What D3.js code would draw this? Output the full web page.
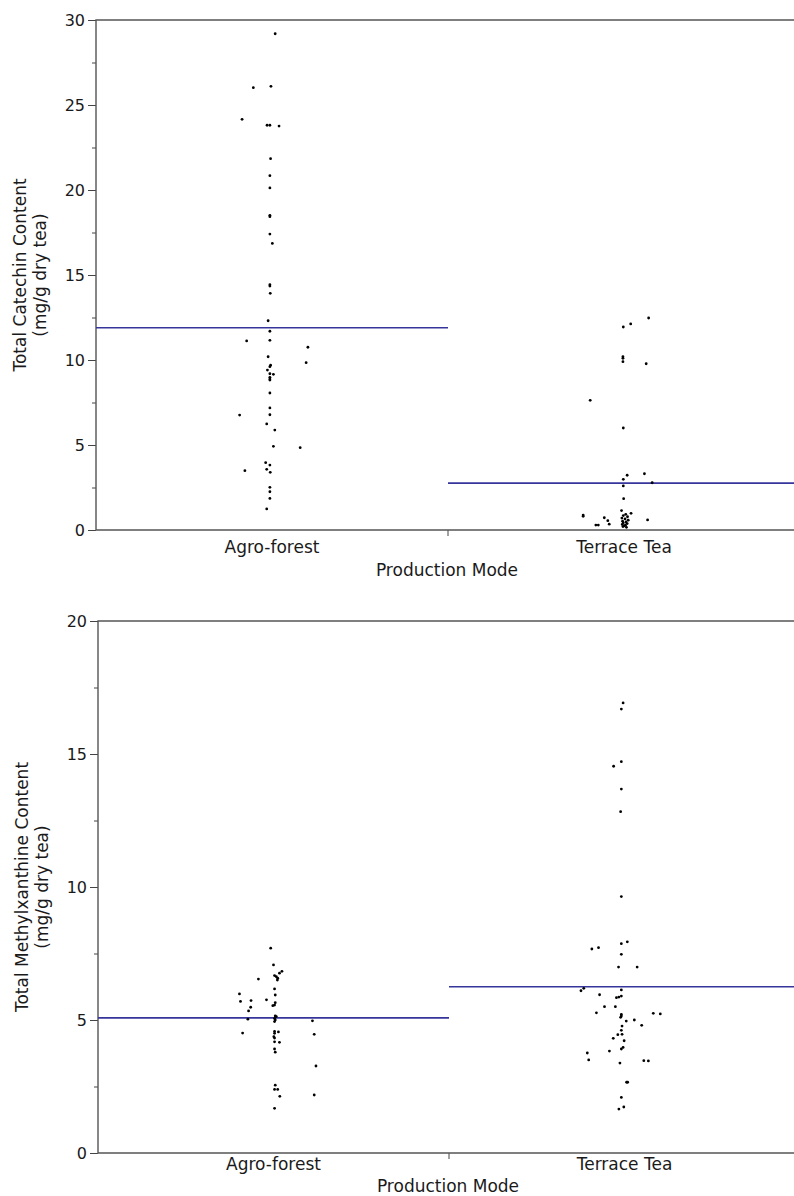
<!DOCTYPE html>
<html>
<head>
<meta charset="utf-8">
<script src="https://cdn.jsdelivr.net/npm/d3@7"></script>
<style>
  body { margin: 0; background: #fff; }
  text { font-family: "DejaVu Sans", "Noto Sans", sans-serif; fill: #1a1a1a; }
</style>
</head>
<body>
<svg id="chart" width="794" height="1196"></svg>
<script>
const categories = ["Agro-forest", "Terrace Tea"];

// Total catechin content (mg/g dry tea) per sample; jitter is a horizontal
// offset expressed as a fraction of the category width.
const catechinAgroforest = [29.19, 26.02, 26.10, 24.16, 23.81, 23.81, 23.76, 21.84, 20.84, 20.12,
  18.51, 18.43, 17.41, 16.86, 14.43, 14.35, 13.92, 12.31, 11.69, 11.12, 11.16, 10.75, 10.19, 9.84,
  9.69, 9.61, 9.41, 9.19, 9.16, 8.98, 8.88, 8.82, 8.06, 7.18, 6.76, 6.78, 6.24, 5.88, 4.92, 4.84,
  3.96, 3.82, 3.49, 3.57, 3.39, 2.51, 2.25, 1.86, 1.24];
const catechinAgroforestJitter = [0.009, -0.053, -0.003, -0.085, -0.014, -0.006, 0.020, -0.004, -0.006, -0.006,
  -0.006, -0.006, -0.006, 0.001, -0.006, -0.006, -0.005, -0.011, -0.006, -0.072, -0.006, 0.102, -0.011, 0.097,
  -0.004, -0.006, -0.013, -0.006, 0.004, -0.006, -0.006, -0.006, -0.006, -0.006, -0.092, -0.006, -0.015, 0.008, 0.004, 0.080,
  -0.018, -0.006, -0.077, -0.015, -0.005, -0.006, -0.006, -0.006, -0.015];

const catechinTerrace = [12.47, 12.12, 11.94, 10.19, 10.10, 9.90, 9.78, 7.63, 6.00, 3.22,
  3.31, 2.98, 2.78, 2.59, 1.84, 1.14, 0.98, 0.88, 0.81, 0.72, 0.59, 0.55, 0.34, 0.29, 0.29,
  0.92, 0.85, 0.78, 0.70, 0.65, 0.58, 0.52, 0.47, 0.42, 0.38, 0.33, 0.28, 0.24, 0.20, 0.16];
const catechinTerraceJitter = [0.070, 0.019, -0.002, -0.003, -0.003, -0.003, 0.063, -0.096, -0.002, 0.009,
  0.058, -0.002, 0.080, -0.002, -0.001, -0.007, 0.020, -0.116, -0.116, -0.056, 0.067, -0.046, -0.042, -0.080, -0.073,
  0.005, -0.002, 0.010, -0.006, 0.003, 0.012, -0.004, 0.006, -0.002, 0.009, -0.005, 0.004, 0.000, -0.003, 0.007];

// Total methylxanthine content (mg/g dry tea)
const methylAgroforest = [7.70, 7.07, 6.83, 6.76, 6.67, 6.63, 6.57, 6.50, 6.54, 6.17,
  5.98, 5.94, 5.76, 5.70, 5.73, 5.65, 5.56, 5.54, 5.48, 5.34,
  5.03, 5.15, 5.13, 5.06, 5.00, 4.94, 4.97, 4.51, 4.57, 4.55,
  4.50, 4.46, 4.37, 4.32, 4.18, 4.16, 3.91, 3.79, 3.27, 2.55,
  2.39, 2.39, 2.18, 2.13, 1.68];
const methylAgroforestJitter = [-0.008, 0.000, 0.024, 0.017, 0.003, 0.008, 0.012, 0.011, -0.043, 0.003,
  -0.097, 0.005, -0.020, -0.094, -0.064, 0.005, 0.003, -0.002, -0.065, -0.071,
  -0.073, 0.005, 0.008, 0.003, 0.005, 0.003, 0.111, -0.088, 0.003, 0.014,
  0.003, 0.116, 0.001, 0.003, 0.003, 0.017, 0.003, 0.005, 0.121, 0.005,
  0.003, 0.012, 0.116, 0.018, 0.003];

const methylTerrace = [16.92, 16.69, 14.71, 14.54, 13.68, 12.83, 9.64, 7.94, 7.87, 7.72,
  7.67, 7.47, 6.99, 6.99, 6.19, 6.10, 6.13, 5.95, 5.84, 5.86,
  5.90, 5.50, 5.50, 5.27, 5.21, 5.15, 5.10, 5.25, 5.23, 4.96,
  5.00, 4.80, 4.77, 4.61, 4.46, 4.45, 4.31, 4.22, 3.97, 3.91,
  3.83, 3.76, 3.50, 3.38, 3.47, 3.46, 2.66, 2.66, 2.09, 1.73, 1.65];
const methylTerraceJitter = [-0.004, -0.009, -0.009, -0.031, -0.009, -0.011, -0.009, 0.008, -0.009, -0.074,
  -0.093, -0.009, -0.017, 0.036, -0.116, -0.124, -0.009, -0.071, -0.023, -0.016,
  -0.009, -0.057, -0.026, -0.080, -0.009, -0.009, -0.011, 0.082, 0.102, 0.005,
  0.028, 0.049, -0.007, -0.009, -0.007, -0.019, -0.032, -0.001, -0.004, -0.009,
  -0.043, -0.106, -0.102, -0.013, 0.055, 0.068, 0.006, 0.009, -0.009, -0.002, -0.016];

// Group means drawn as horizontal lines across each category
const catechinMeans = [11.9, 2.76];
const methylMeans = [5.08, 6.25];

const catechinTicks = [0, 5, 10, 15, 20, 25, 30];
const catechinMinorTicks = [2.5, 7.5, 12.5, 17.5, 22.5, 27.5];
const methylTicks = [0, 5, 10, 15, 20];
const methylMinorTicks = [2.5, 7.5, 12.5, 17.5];

const svg = d3.select("#chart");

function drawPanel(cfg) {
  const g = svg.append("g");
  const x = d3.scaleBand().domain(categories).range([cfg.left, cfg.right]).padding(0);
  const y = d3.scaleLinear().domain(cfg.domain).range([cfg.bottom, cfg.top]);
  const bw = x.bandwidth();

  // minor ticks
  const minor = g.append("g").attr("transform", `translate(${cfg.left},0)`)
    .call(d3.axisLeft(y).tickValues(cfg.minorTicks).tickSize(4).tickFormat(""));
  minor.select(".domain").remove();
  minor.selectAll("line").attr("stroke", "#444");

  // major ticks and labels
  const major = g.append("g").attr("transform", `translate(${cfg.left},0)`)
    .call(d3.axisLeft(y).tickValues(cfg.ticks).tickSize(8).tickPadding(3));
  major.select(".domain").remove();
  major.selectAll("line").attr("stroke", "#444");
  major.selectAll("text").style("font-size", "16px").attr("fill", "#1a1a1a");

  // category labels
  const xa = g.append("g").attr("transform", `translate(0,${cfg.bottom})`)
    .call(d3.axisBottom(x).tickSize(0).tickPadding(cfg.labelPad));
  xa.select(".domain").remove();
  xa.selectAll("text").style("font-size", "17px").attr("fill", "#1a1a1a");

  // tick between the two categories
  g.append("line")
    .attr("x1", x(categories[1])).attr("x2", x(categories[1]))
    .attr("y1", cfg.bottom).attr("y2", cfg.bottom + 6)
    .attr("stroke", "#444");

  // frame: left, bottom, top
  g.append("path")
    .attr("d", `M${cfg.right},${cfg.top}H${cfg.left}V${cfg.bottom}H${cfg.right}`)
    .attr("fill", "none").attr("stroke", "#555").attr("stroke-width", 1.4);

  // group mean lines
  g.selectAll(".mean").data(categories).enter().append("line")
    .attr("x1", d => x(d)).attr("x2", d => x(d) + bw)
    .attr("y1", (d, i) => y(cfg.means[i])).attr("y2", (d, i) => y(cfg.means[i]))
    .attr("stroke", "#35359c").attr("stroke-width", 1.6);

  // jittered points
  cfg.series.forEach((s, i) => {
    const cat = categories[i];
    g.selectAll(null).data(s.values).enter().append("circle")
      .attr("cx", (v, j) => x(cat) + bw / 2 + s.jitter[j] * bw)
      .attr("cy", v => y(v))
      .attr("r", 1.4)
      .attr("fill", "#000");
  });

  // axis titles
  g.append("text")
    .attr("x", (cfg.left + cfg.right) / 2 - 1)
    .attr("y", cfg.bottom + cfg.titleOffset)
    .attr("text-anchor", "middle")
    .style("font-size", "17px")
    .text("Production Mode");

  const yc = (cfg.top + cfg.bottom) / 2;
  cfg.yTitle.forEach((line, k) => {
    g.append("text")
      .attr("transform", `translate(${cfg.titleX + k * 20},${yc}) rotate(-90)`)
      .attr("text-anchor", "middle")
      .style("font-size", "17px")
      .text(line);
  });
}

drawPanel({
  left: 96, right: 800, top: 20, bottom: 530,
  domain: [0, 30], ticks: catechinTicks, minorTicks: catechinMinorTicks,
  means: catechinMeans,
  series: [
    { values: catechinAgroforest, jitter: catechinAgroforestJitter },
    { values: catechinTerrace, jitter: catechinTerraceJitter }
  ],
  yTitle: ["Total Catechin Content", "(mg/g dry tea)"],
  titleX: 26, labelPad: 11, titleOffset: 46
});

drawPanel({
  left: 98, right: 800, top: 621, bottom: 1153,
  domain: [0, 20], ticks: methylTicks, minorTicks: methylMinorTicks,
  means: methylMeans,
  series: [
    { values: methylAgroforest, jitter: methylAgroforestJitter },
    { values: methylTerrace, jitter: methylTerraceJitter }
  ],
  yTitle: ["Total Methylxanthine Content", "(mg/g dry tea)"],
  titleX: 28, labelPad: 5, titleOffset: 39
});
</script>
</body>
</html>
